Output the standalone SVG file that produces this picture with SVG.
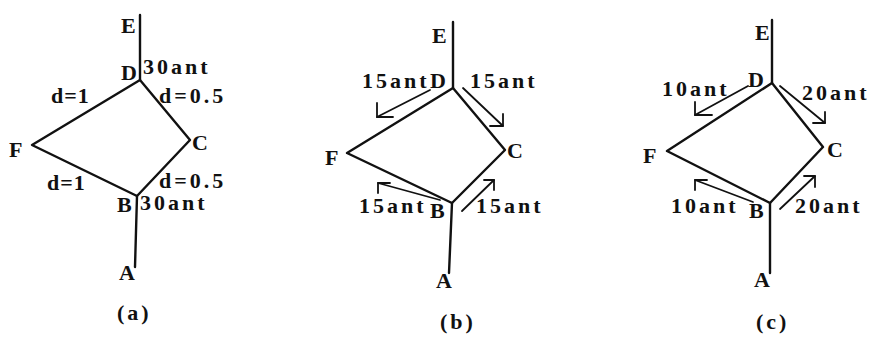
<svg xmlns="http://www.w3.org/2000/svg" width="871" height="337" viewBox="0 0 871 337">
<style>
.e{stroke:#111;stroke-width:2.4;fill:none;stroke-linecap:round;stroke-linejoin:round}
.a{stroke:#111;stroke-width:1.8;fill:none;stroke-linecap:round;stroke-linejoin:round}
text{font-family:"Liberation Serif","DejaVu Serif",serif;font-weight:bold;font-size:22px;fill:#111}
.w{letter-spacing:3px}
.s{letter-spacing:1px}
</style>
<rect width="871" height="337" fill="#fff"/>
<g id="connectors">
  <!-- panel a -->
  <polyline class="e" points="140,15 140,80"/>
  <polyline class="e" points="140,80 32,145 137,196 190,140 140,80"/>
  <polyline class="e" points="137,196 135,267"/>
  <!-- panel b -->
  <polyline class="e" points="453,22 453,88"/>
  <polyline class="e" points="453,88 347,153 452,203 505,150 453,88"/>
  <polyline class="e" points="452,203 449,273"/>
  <polyline class="a" points="430,90 377,117"/>
  <polyline class="a" points="377,103 377,117 393,117"/>
  <polyline class="a" points="463,88 503,126"/>
  <polyline class="a" points="503,114 503,126 490,126"/>
  <polyline class="a" points="440,200 378,183"/>
  <polyline class="a" points="390,183 378,183 378,193"/>
  <polyline class="a" points="462,211 494,180"/>
  <polyline class="a" points="484,180 494,180 494,190"/>
  <!-- panel c -->
  <polyline class="e" points="772,20 772,83"/>
  <polyline class="e" points="772,83 667,151 770,203 823,147 772,83"/>
  <polyline class="e" points="770,203 770,273"/>
  <polyline class="a" points="748,86 695,115"/>
  <polyline class="a" points="695,102 695,115 712,115"/>
  <polyline class="a" points="780,86 825,123"/>
  <polyline class="a" points="825,112 825,123 813,123"/>
  <polyline class="a" points="753,202 695,180"/>
  <polyline class="a" points="707,180 695,180 695,190"/>
  <polyline class="a" points="780,209 815,176"/>
  <polyline class="a" points="804,176 815,176 815,187"/>
</g>
<g id="panel-a">
  <g id="a-E"><text x="121" y="33">E</text></g>
  <g id="a-D"><text x="121" y="80">D</text></g>
  <g id="a-F"><text x="9" y="157">F</text></g>
  <g id="a-C"><text x="192" y="150">C</text></g>
  <g id="a-B"><text x="117" y="212">B</text></g>
  <g id="a-A"><text x="119" y="280">A</text></g>
  <text class="w" x="143" y="74">30ant</text>
  <text class="s" x="51" y="103">d=1</text>
  <text class="w" x="159" y="103">d=0.5</text>
  <text class="s" x="47" y="190">d=1</text>
  <text class="w" x="159" y="188">d=0.5</text>
  <text class="w" x="140" y="210">30ant</text>
  <text class="w" x="117" y="320">(a)</text>
</g>
<g id="panel-b">
  <g id="b-E"><text x="432" y="43">E</text></g>
  <g id="b-D"><text x="430" y="88">D</text></g>
  <g id="b-F"><text x="325" y="165">F</text></g>
  <g id="b-C"><text x="507" y="158">C</text></g>
  <g id="b-B"><text x="430" y="218">B</text></g>
  <g id="b-A"><text x="436" y="288">A</text></g>
  <text class="w" x="362" y="88">15ant</text>
  <text class="w" x="470" y="88">15ant</text>
  <text class="w" x="359" y="213">15ant</text>
  <text class="w" x="476" y="213">15ant</text>
  <text class="w" x="440" y="329">(b)</text>
</g>
<g id="panel-c">
  <g id="c-E"><text x="755" y="40">E</text></g>
  <g id="c-D"><text x="748" y="87">D</text></g>
  <g id="c-F"><text x="643" y="163">F</text></g>
  <g id="c-C"><text x="827" y="157">C</text></g>
  <g id="c-B"><text x="749" y="218">B</text></g>
  <g id="c-A"><text x="754" y="287">A</text></g>
  <text class="w" x="662" y="96">10ant</text>
  <text class="w" x="802" y="100">20ant</text>
  <text class="w" x="671" y="213">10ant</text>
  <text class="w" x="795" y="213">20ant</text>
  <text class="w" x="756" y="329">(c)</text>
</g>
</svg>
